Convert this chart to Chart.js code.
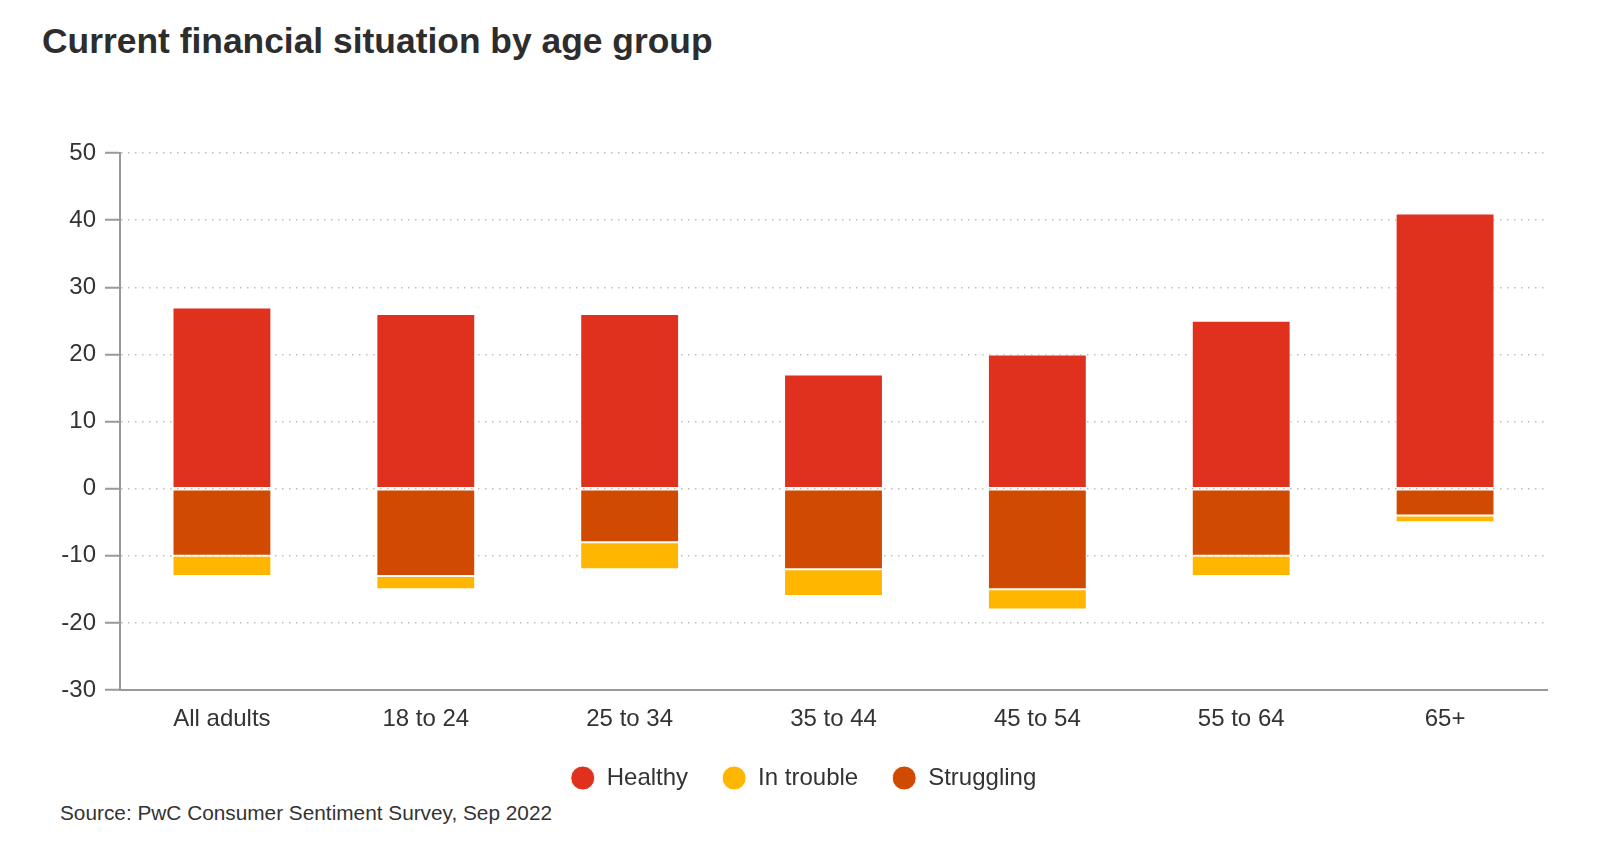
<!DOCTYPE html>
<html>
<head>
<meta charset="utf-8">
<title>Current financial situation by age group</title>
<script src="https://cdn.jsdelivr.net/npm/chart.js@4.4.1/dist/chart.umd.min.js"></script>
<style>
  body { margin: 0; background: #fff; font-family: "Liberation Sans", Arial, sans-serif; }
  #wrap { position: relative; width: 1600px; height: 857px; overflow: hidden; }
  #title { position: absolute; left: 42px; top: 20px; font-size: 35.4px; line-height: 42px; font-weight: bold; color: #2d2d2d; }
  #source { position: absolute; left: 60px; top: 801px; font-size: 20.8px; line-height: 24px; color: #333; }
  #chart { position: absolute; left: 0; top: 120px; }
</style>
</head>
<body>
<div id="wrap">
  <div id="title">Current financial situation by age group</div>
  <canvas id="chart" width="1600" height="680"></canvas>
  <div id="source">Source: PwC Consumer Sentiment Survey, Sep 2022</div>
</div>
<script>
var ageGroups = ["All adults", "18 to 24", "25 to 34", "35 to 44", "45 to 54", "55 to 64", "65+"];
var healthy = [27, 26, 26, 17, 20, 25, 41];
var struggling = [-10, -13, -8, -12, -15, -10, -4];
var inTrouble = [-3, -2, -4, -4, -3, -3, -1];
var yMin = -30, yMax = 50, yStep = 10;

var txt = "#333333";
var fontName = "'Liberation Sans', Arial, sans-serif";

// struggling sits next to zero, so it gets stacked before "in trouble"
var datasets = [
  { label: "Healthy", data: healthy, backgroundColor: "#e0301e", order: 1 },
  { label: "In trouble", data: inTrouble, backgroundColor: "#ffb600", order: 3 },
  { label: "Struggling", data: struggling, backgroundColor: "#d04a02", order: 2 }
];
datasets.forEach(function(d){
  d.borderColor = "#ffffff";
  d.borderWidth = 1;
  d.borderSkipped = false;
  d.categoryPercentage = 1;
  d.barPercentage = 0.485;
});

new Chart(document.getElementById("chart").getContext("2d"), {
  type: "bar",
  data: { labels: ageGroups, datasets: datasets },
  options: {
    responsive: false,
    animation: false,
    layout: { padding: { top: 33, right: 53, left: 60, bottom: 0 } },
    plugins: {
      tooltip: { enabled: false },
      legend: {
        position: "bottom",
        labels: {
          usePointStyle: true,
          pointStyle: "circle",
          boxHeight: 17,
          pointStyleWidth: 24,
          padding: 34,
          color: txt,
          font: { family: fontName, size: 24 },
          sort: function(a, b){ return a.datasetIndex - b.datasetIndex; }
        }
      }
    },
    scales: {
      x: {
        stacked: true,
        afterFit: function(s){ s.height = 42; },
        grid: { display: false, drawTicks: false },
        border: { display: true, color: "#999999", width: 2 },
        ticks: { color: txt, padding: 15, font: { family: fontName, size: 24 } }
      },
      y: {
        stacked: true,
        min: yMin,
        max: yMax,
        afterFit: function(s){ s.width = 60; },
        grid: {
          color: "#bdbdbd",
          lineWidth: 1.5,
          tickLength: 15,
          tickColor: "#999999",
          tickWidth: 2,
          tickBorderDash: []
        },
        border: { display: true, color: "#999999", width: 2, dash: [1.5, 5.5] },
        ticks: { stepSize: yStep, color: txt, padding: 9, font: { family: fontName, size: 24 } }
      }
    }
  }
});
</script>
</body>
</html>
